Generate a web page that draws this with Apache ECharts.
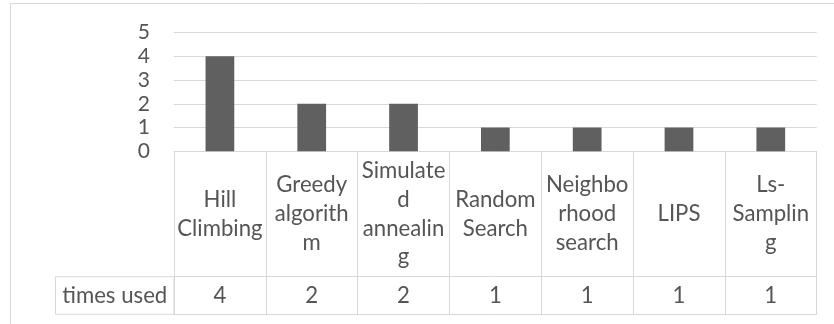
<!DOCTYPE html>
<html>
<head>
<meta charset="utf-8">
<script src="https://cdn.jsdelivr.net/npm/echarts@6/dist/echarts.min.js"></script>
<style>
  html, body { margin: 0; padding: 0; background: #ffffff; }
  #chart { width: 834px; height: 324px; }
</style>
</head>
<body>
<div id="chart"></div>
<script>
// Category labels as wrapped in the data table cells
const categories = [
  'Hill\nClimbing',
  'Greedy\nalgorith\nm',
  'Simulate\nd\nannealin\ng',
  'Random\nSearch',
  'Neighbo\nrhood\nsearch',
  'LIPS',
  'Ls-\nSamplin\ng'
];
// Number of times each method was used
const timesUsed = [4, 2, 2, 1, 1, 1, 1];
const seriesName = 'times used';

const FONT = 'Lato, "Liberation Sans", sans-serif';
const TEXT = '#555555';
const LINE = '#d9d9d9';
const FS = 22.2;
const FS_Y = 21;

// Layout of the plot and of the table beneath it
const plotLeft = 174, plotRight = 17.3, plotTop = 32.5, plotHeight = 118.8;
const headRow = 125.4, valueRow = 37.6;

const chart = echarts.init(document.getElementById('chart'), null, { renderer: 'canvas' });

chart.setOption({
  animation: false,
  textStyle: { fontFamily: FONT },
  graphic: [{
    type: 'rect',
    shape: { x: 10.5, y: 3.5, width: 900, height: 400 },
    style: { fill: null, stroke: LINE, lineWidth: 1 },
    silent: true
  }],
  grid: [
    { left: plotLeft, right: plotRight, top: plotTop, height: plotHeight },
    {
      left: 55.5, width: plotLeft - 55.5,
      top: plotTop + plotHeight + headRow, height: valueRow,
      show: true, borderColor: LINE, borderWidth: 1, backgroundColor: 'transparent'
    }
  ],
  xAxis: [
    {
      gridIndex: 0, type: 'category', data: categories, position: 'bottom',
      axisLine: { show: true, lineStyle: { color: LINE, width: 1 } },
      axisTick: { show: true, interval: 0, length: headRow, lineStyle: { color: LINE, width: 1 } },
      axisLabel: {
        interval: 0, fontSize: FS, lineHeight: 28.7, color: TEXT, fontFamily: FONT,
        verticalAlign: 'middle', align: 'center', margin: headRow / 2
      },
      splitLine: { show: false }
    },
    {
      gridIndex: 0, type: 'category', data: categories, position: 'bottom', offset: headRow,
      axisLine: { show: true, lineStyle: { color: LINE, width: 1 } },
      axisTick: { show: true, interval: 0, length: valueRow, lineStyle: { color: LINE, width: 1 } },
      axisLabel: {
        interval: 0, fontSize: FS, color: TEXT, fontFamily: FONT,
        verticalAlign: 'middle', margin: valueRow / 2,
        formatter: (v, i) => String(timesUsed[i])
      },
      splitLine: { show: false }
    },
    {
      gridIndex: 0, type: 'category', data: categories, position: 'bottom', offset: headRow + valueRow,
      axisLine: { show: true, lineStyle: { color: LINE, width: 1 } },
      axisTick: { show: false },
      axisLabel: { show: false },
      splitLine: { show: false }
    },
    {
      gridIndex: 1, type: 'category', data: [seriesName], position: 'bottom',
      axisLine: { show: false }, axisTick: { show: false },
      axisLabel: {
        inside: true, fontSize: FS, color: TEXT, fontFamily: FONT,
        verticalAlign: 'middle', margin: valueRow / 2
      },
      splitLine: { show: false }
    }
  ],
  yAxis: [
    {
      gridIndex: 0, type: 'value', min: 0, max: 5, interval: 1,
      axisLine: { show: false }, axisTick: { show: false },
      axisLabel: { fontSize: FS_Y, color: TEXT, fontFamily: FONT, margin: 24 },
      splitLine: { show: true, lineStyle: { color: LINE, width: 1 } }
    },
    { gridIndex: 1, type: 'value', show: false }
  ],
  series: [{
    name: seriesName,
    type: 'bar',
    xAxisIndex: 0, yAxisIndex: 0,
    data: timesUsed,
    barWidth: '31.3%',
    itemStyle: { color: '#606060' }
  }]
});
</script>
</body>
</html>
